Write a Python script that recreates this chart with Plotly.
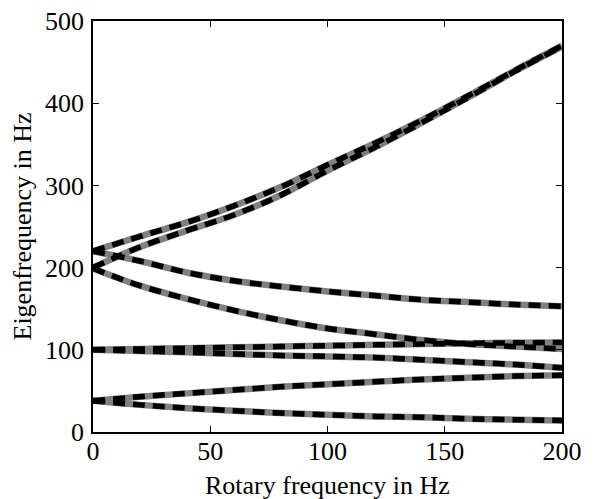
import plotly.graph_objects as go

rotary_hz = [0, 20, 40, 60, 80, 100, 120, 140, 160, 180, 200]

fw_upper_220 = [220, 238, 255, 275, 298, 325, 351, 379, 409, 440, 470]
fw_lower_200 = [200, 225, 245, 264, 288, 318, 346, 376, 407, 439, 469]
bw_upper_220 = [220, 208, 194, 184, 177, 171, 166, 161, 158, 155, 153]
bw_lower_200 = [199, 178, 162, 148, 136, 126, 119, 112, 107, 104, 101]
fw_100 = [100, 101, 102, 103, 104, 105, 106, 107, 108, 108.5, 109]
bw_100 = [100, 98.5, 97, 95, 93, 92, 90.5, 88, 85, 82, 78]
fw_38 = [38, 43, 47, 51, 55, 58, 61, 64, 66, 68, 69]
bw_38 = [38, 33, 29, 26, 23, 21, 19, 18, 16, 15, 14]

series = [fw_upper_220, fw_lower_200, bw_upper_220, bw_lower_200,
          fw_100, bw_100, fw_38, bw_38]

x_ticks = [0, 50, 100, 150, 200]
y_ticks = [0, 100, 200, 300, 400, 500]

fig = go.Figure()
for s in series:
    fig.add_trace(go.Scatter(x=rotary_hz, y=s, mode="lines",
                             line=dict(color="#808080", width=6.5, shape="spline"),
                             hoverinfo="skip", showlegend=False))
for s in series:
    fig.add_trace(go.Scatter(x=rotary_hz, y=s, mode="lines",
                             line=dict(color="black", width=5.5, dash="12px,8px", shape="spline"),
                             showlegend=False))

font = dict(family="Liberation Serif, Times New Roman, serif", size=26, color="black")
axis_common = dict(showline=True, linecolor="black", linewidth=1.5, mirror="ticks",
                   ticks="inside", ticklen=6, tickwidth=1, tickcolor="black",
                   showgrid=False, zeroline=False, tickfont=font, automargin=False,
                   ticklabeloverflow="allow")
fig.update_xaxes(range=[0, 200], tickvals=x_ticks, ticklabelstandoff=-5, **axis_common)
fig.update_yaxes(range=[0, 500], tickvals=y_ticks, ticklabelstandoff=2, **axis_common)
fig.add_annotation(text="Rotary frequency in Hz", xref="paper", yref="paper",
                   x=0.5, y=0, xanchor="center", yanchor="top", yshift=-37,
                   showarrow=False, font=font)
fig.add_annotation(text="Eigenfrequency in Hz", xref="paper", yref="paper",
                   x=0, y=0.5, xanchor="center", yanchor="middle", xshift=-71,
                   textangle=-90, showarrow=False, font=font)
fig.update_layout(width=590, height=491, plot_bgcolor="white", paper_bgcolor="white",
                  margin=dict(l=85, r=36, t=13, b=67, autoexpand=False), font=font)
fig.write_html("out.html")
